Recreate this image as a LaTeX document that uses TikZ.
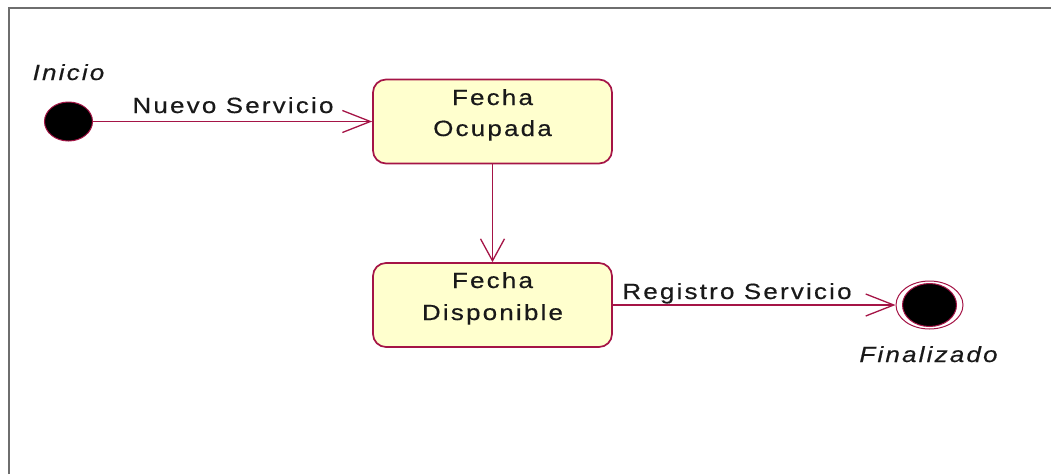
\documentclass[tikz,border=0pt]{standalone}
\usepackage{fontspec}
\usetikzlibrary{arrows.meta,shapes.geometric}
\newfontfamily\umlfont[FakeStretch=1.18,LetterSpace=10,FakeBold=0.5]{Liberation Sans}
\definecolor{umlred}{RGB}{165,20,70}
\definecolor{umlfill}{RGB}{255,255,206}
\definecolor{framegray}{RGB}{110,110,110}
\tikzset{
  umltext/.style={font=\umlfont\fontsize{22}{26}\selectfont, inner sep=0pt, anchor=base, text=black!90},
  umlital/.style={umltext, font=\umlfont\itshape\fontsize{22}{26}\selectfont},
  statebox/.style={draw=umlred, fill=umlfill, line width=1.7pt, rounded corners=13pt,
    minimum width=239pt, minimum height=84pt, inner sep=0pt},
  trans/.style={draw=umlred, line width=1.5pt},
  harrow/.style={trans, -{Straight Barb[length=28pt,width=22pt,line width=1.3pt]}},
  varrow/.style={trans, -{Straight Barb[length=22pt,width=24pt,line width=1.3pt]}},
}
\begin{document}
\begin{tikzpicture}[x=1pt,y=-1pt]
\useasboundingbox (0,0) rectangle (1051,474);
% frame
\draw[framegray, line width=1.5pt] (9,474) -- (9,8) -- (1051,8);
% initial state
\node[ellipse, draw=umlred, fill=black, line width=1pt, minimum width=48pt, minimum height=39pt, inner sep=0pt] (init) at (68.5,121.5) {};
\node[umlital] (initlbl) at (68.5,80) {Inicio};
% states
\node[statebox] (s1) at (492.5,121.5) {};
\node[umltext] (s1a) at (492.5,105) {Fecha};
\node[umltext] (s1b) at (492.5,136) {Ocupada};
\node[statebox] (s2) at (492.5,305) {};
\node[umltext] (s2a) at (492.5,288) {Fecha};
\node[umltext] (s2b) at (492.5,320) {Disponible};
% final state
\node[ellipse, draw=umlred, fill=white, line width=1pt, minimum width=67pt, minimum height=48pt, inner sep=0pt] (fin) at (929.5,305) {};
\node[ellipse, draw=umlred, fill=black, line width=1pt, minimum width=54pt, minimum height=43pt, inner sep=0pt] (fininner) at (fin) {};
\node[umlital] (finlbl) at (928.5,362) {Finalizado};
% transitions
\draw[harrow] (init) -- (s1);
\node[umltext] (t1) at (233,113) {Nuevo Servicio};
\draw[varrow] (s1) -- (s2);
\draw[harrow] (s2) -- (fin);
\node[umltext] (t3) at (737,299) {Registro Servicio};
\end{tikzpicture}
\end{document}
